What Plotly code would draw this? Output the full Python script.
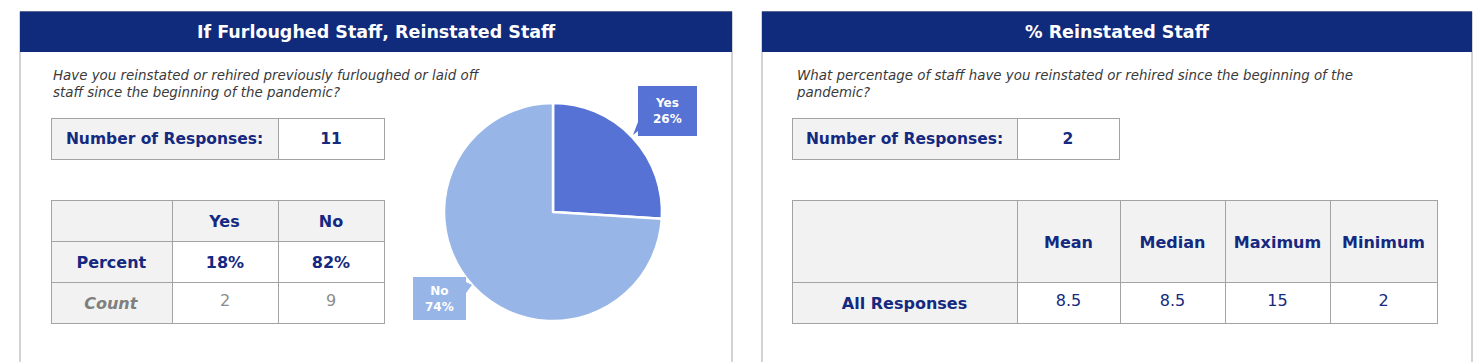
import plotly.graph_objects as go

W, H = 1476, 362

# ---------------- data ----------------
left_title = "If Furloughed Staff, Reinstated Staff"
left_question = "Have you reinstated or rehired previously furloughed or laid off<br>staff since the beginning of the pandemic?"
left_n = 11
left_cols = ["Yes", "No"]
left_percent = ["18%", "82%"]
left_count = ["2", "9"]
pie_labels = ["Yes", "No"]
pie_values = [26, 74]

right_title = "% Reinstated Staff"
right_question = "What percentage of staff have you reinstated or rehired since the beginning of the<br>pandemic?"
right_n = 2
stat_names = ["Mean", "Median", "Maximum", "Minimum"]
stat_values = ["8.5", "8.5", "15", "2"]
row_label = "All Responses"

# ---------------- style ----------------
NAVY = "#102a7c"
TXT = "#14297f"
GRAYBG = "#f2f2f2"
LINE = "#a3a3a3"
FONT = "'DejaVu Sans', sans-serif"
YES_C = "#5572d4"
NO_C = "#98b5e7"
CLEAR = "rgba(0,0,0,0)"
DY = 4  # push cell text down to centre it vertically


def px(x):
    return x / W


def py(y):
    return 1 - y / H


fig = go.Figure()


def table(x0, x1, top, colw, hvals, hh, hfill, hfont_size, cvals, ch, cfill, cfont):
    # grid layer: fills and borders
    fig.add_trace(go.Table(
        domain=dict(x=[px(x0), px(x1)], y=[py(top + 160), py(top)]),
        columnwidth=colw,
        header=dict(values=[""] * len(hvals), fill_color=hfill, line_color=LINE,
                    line_width=1, height=hh),
        cells=dict(values=[[""] * len(c) for c in cvals] if cvals else [[] for _ in hvals],
                   fill_color=cfill, line_color=LINE, line_width=1,
                   height=ch if cvals else 0),
        hoverinfo="skip",
    ))
    # text layer
    fig.add_trace(go.Table(
        domain=dict(x=[px(x0), px(x1)], y=[py(top + 160), py(top + DY)]),
        columnwidth=colw,
        header=dict(values=hvals, fill_color=CLEAR, line_color=CLEAR, line_width=1,
                    height=hh, align="center",
                    font=dict(family=FONT, size=hfont_size, color=TXT)),
        cells=dict(values=cvals if cvals else [[] for _ in hvals],
                   fill_color=CLEAR, line_color=CLEAR, line_width=1,
                   height=ch if cvals else 0, align="center", font=cfont),
    ))


# Number-of-responses boxes
table(51, 384, 118, [227, 106], ["<b>Number of Responses:</b>", "<b>%d</b>" % left_n],
      41, [GRAYBG, "white"], 15.5, None, 0, None, None)
table(792, 1119, 118, [225, 102], ["<b>Number of Responses:</b>", "<b>%d</b>" % right_n],
      41, [GRAYBG, "white"], 15.5, None, 0, None, None)

# Left table
table(51, 384, 200, [121, 106, 106],
      [""] + ["<b>%s</b>" % c for c in left_cols], 41, GRAYBG, 16,
      [["<b>Percent</b>", "<b><i>Count</i></b>"]] +
      [["<b>%s</b>" % p, c] for p, c in zip(left_percent, left_count)],
      41,
      [[GRAYBG, GRAYBG], ["white", "white"], ["white", "white"]],
      dict(family=FONT, size=16,
           color=[[TXT, "#7f7f7f"], [TXT, "#8c8c8c"], [TXT, "#8c8c8c"]]))

# Right table
table(792, 1437, 200, [225, 103, 105, 105, 107],
      [""] + ["&nbsp;<br><b>%s</b>" % s for s in stat_names], 82, GRAYBG, 16,
      [["<b>%s</b>" % row_label]] + [[v] for v in stat_values],
      41,
      [[GRAYBG]] + [["white"]] * 4,
      dict(family=FONT, size=16, color=TXT))

# Pie
fig.add_trace(go.Pie(
    labels=pie_labels, values=pie_values, sort=False, direction="clockwise",
    rotation=0, textinfo="none", hoverinfo="label+percent",
    marker=dict(colors=[YES_C, NO_C], line=dict(color="white", width=2.5)),
    domain=dict(x=[px(444), px(662)], y=[py(321), py(103)]),
    showlegend=False,
))

shapes = []
annotations = []
# panels
for (x0, x1, title, q, qx) in [(20, 732, left_title, left_question, 51),
                               (762, 1472, right_title, right_question, 794)]:
    shapes.append(dict(type="rect", xref="paper", yref="paper",
                       x0=px(x0), x1=px(x1), y0=py(420), y1=py(11.5),
                       line=dict(color="#a6a6a6", width=1), fillcolor=CLEAR))
    shapes.append(dict(type="rect", xref="paper", yref="paper",
                       x0=px(x0), x1=px(x1), y0=py(52), y1=py(11.5),
                       line=dict(width=0), fillcolor=NAVY))
    annotations.append(dict(xref="paper", yref="paper", x=px((x0 + x1) / 2), y=py(32),
                            text="<b>%s</b>" % title, showarrow=False,
                            font=dict(family=FONT, size=17.5, color="white"),
                            xanchor="center", yanchor="middle"))
    annotations.append(dict(xref="paper", yref="paper", x=px(qx), y=py(84.5),
                            text="<i>%s</i>" % q, showarrow=False, align="left",
                            font=dict(family=FONT, size=13.4, color="#3a3a3a"),
                            xanchor="left", yanchor="middle"))

# pie callout labels
for lab, val, col, (bx0, by0, bx1, by1), tri in [
        (pie_labels[0], pie_values[0], YES_C, (638, 86, 697, 136),
         [(638, 122), (638, 131), (633, 135)]),
        (pie_labels[1], pie_values[1], NO_C, (413, 277, 466, 320),
         [(466, 282), (466, 293), (472, 285)])]:
    shapes.append(dict(type="rect", xref="paper", yref="paper",
                       x0=px(bx0), x1=px(bx1), y0=py(by1), y1=py(by0),
                       line=dict(width=0), fillcolor=col))
    path = "M %f %f L %f %f L %f %f Z" % (px(tri[0][0]), py(tri[0][1]),
                                          px(tri[1][0]), py(tri[1][1]),
                                          px(tri[2][0]), py(tri[2][1]))
    shapes.append(dict(type="path", xref="paper", yref="paper", path=path,
                       line=dict(width=0), fillcolor=col))
    annotations.append(dict(xref="paper", yref="paper", x=px((bx0 + bx1) / 2),
                            y=py((by0 + by1) / 2),
                            text="<b>%s<br>%d%%</b>" % (lab, val), showarrow=False,
                            font=dict(family=FONT, size=12, color="white"),
                            xanchor="center", yanchor="middle", align="center"))

fig.update_layout(width=W, height=H, margin=dict(l=0, r=0, t=0, b=0),
                  paper_bgcolor="white", plot_bgcolor="white",
                  shapes=shapes, annotations=annotations,
                  font=dict(family=FONT))

fig.write_html("out.html", config={"displayModeBar": False},
               post_script="document.body.style.margin='0px';document.body.style.overflow='hidden';")
